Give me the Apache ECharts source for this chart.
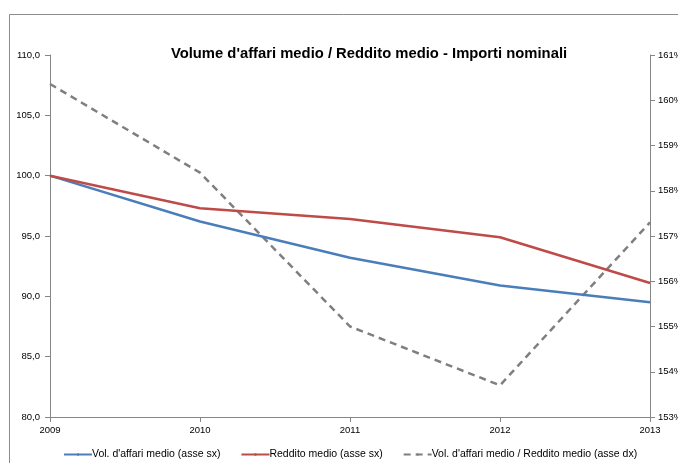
<!DOCTYPE html>
<html>
<head>
<meta charset="utf-8">
<script src="https://cdn.jsdelivr.net/npm/echarts@6/dist/echarts.min.js"></script>
<style>
  html, body { margin: 0; padding: 0; background: #ffffff; }
  #chart { width: 678px; height: 463px; }
</style>
</head>
<body>
<div id="chart"></div>
<script>
// Years on the horizontal axis
var years = ['2009', '2010', '2011', '2012', '2013'];
// Average business volume, index (left axis)
var volumeAffari = [100.0, 96.2, 93.2, 90.9, 89.5];
// Average income, index (left axis)
var redditoMedio = [100.0, 97.3, 96.4, 94.9, 91.1];
// Ratio volume / income, in percent (right axis)
var rapporto = [160.36, 158.4, 155.0, 153.7, 157.3];

var FONT = 'Liberation Sans';
var chart = echarts.init(document.getElementById('chart'), null, { renderer: 'canvas' });

chart.setOption({
  backgroundColor: '#ffffff',
  animation: false,
  textStyle: { fontFamily: FONT },
  graphic: [{
    type: 'polyline',
    shape: { points: [[9.5, 463], [9.5, 14.5], [678, 14.5]] },
    style: { stroke: '#8c8c8c', lineWidth: 1, fill: null },
    silent: true
  }],
  title: {
    text: "Volume d'affari medio / Reddito medio - Importi nominali",
    left: 364,
    textAlign: 'center',
    top: 41,
    textStyle: { fontFamily: FONT, fontSize: 14.8, fontWeight: 'bold', color: '#000000' }
  },
  legend: {
    top: 444,
    left: 58,
    itemWidth: 28,
    itemHeight: 3,
    itemGap: 20,
    textStyle: { fontFamily: FONT, fontSize: 10.5, color: '#000000', padding: [0, 0, 0, -5] },
    data: [
      { name: "Vol. d'affari medio (asse sx)" },
      { name: 'Reddito medio (asse sx)' },
      { name: "Vol. d'affari medio / Reddito medio (asse dx)" }
    ]
  },
  grid: { left: 50, right: 28, top: 55, bottom: 46, containLabel: false, outerBoundsMode: 'none' },
  xAxis: {
    type: 'category',
    data: years,
    boundaryGap: false,
    axisLine: { lineStyle: { color: '#868686', width: 1 } },
    axisTick: { show: true, length: 5, lineStyle: { color: '#868686' } },
    axisLabel: { color: '#000000', fontSize: 9.5, fontFamily: FONT, margin: 8 },
    splitLine: { show: false }
  },
  yAxis: [{
    type: 'value',
    position: 'left',
    min: 80, max: 110, interval: 5,
    axisLine: { show: true, lineStyle: { color: '#868686', width: 1 } },
    axisTick: { show: true, length: 5, lineStyle: { color: '#868686' } },
    axisLabel: {
      color: '#000000', fontSize: 9.5, fontFamily: FONT, margin: 10,
      formatter: function (v) { return v.toFixed(1).replace('.', ','); }
    },
    splitLine: { show: false }
  }, {
    type: 'value',
    position: 'right',
    min: 153, max: 161, interval: 1,
    axisLine: { show: true, lineStyle: { color: '#868686', width: 1 } },
    axisTick: { show: true, length: 5, lineStyle: { color: '#868686' } },
    axisLabel: {
      color: '#000000', fontSize: 9.5, fontFamily: FONT, margin: 8,
      formatter: function (v) { return Math.round(v) + '%'; }
    },
    splitLine: { show: false }
  }],
  series: [{
    name: "Vol. d'affari medio (asse sx)",
    type: 'line',
    yAxisIndex: 0,
    data: volumeAffari,
    symbol: 'none',
    lineStyle: { color: '#4a7ebb', width: 2.5 },
    itemStyle: { color: '#4a7ebb' },
    z: 3
  }, {
    name: 'Reddito medio (asse sx)',
    type: 'line',
    yAxisIndex: 0,
    data: redditoMedio,
    symbol: 'none',
    lineStyle: { color: '#be4b48', width: 2.5 },
    itemStyle: { color: '#be4b48' },
    z: 3
  }, {
    name: "Vol. d'affari medio / Reddito medio (asse dx)",
    type: 'line',
    yAxisIndex: 1,
    data: rapporto,
    symbol: 'none',
    lineStyle: { color: '#7f7f7f', width: 2.5, type: [7, 5] },
    itemStyle: { color: '#7f7f7f' },
    z: 2
  }]
});
</script>
</body>
</html>
